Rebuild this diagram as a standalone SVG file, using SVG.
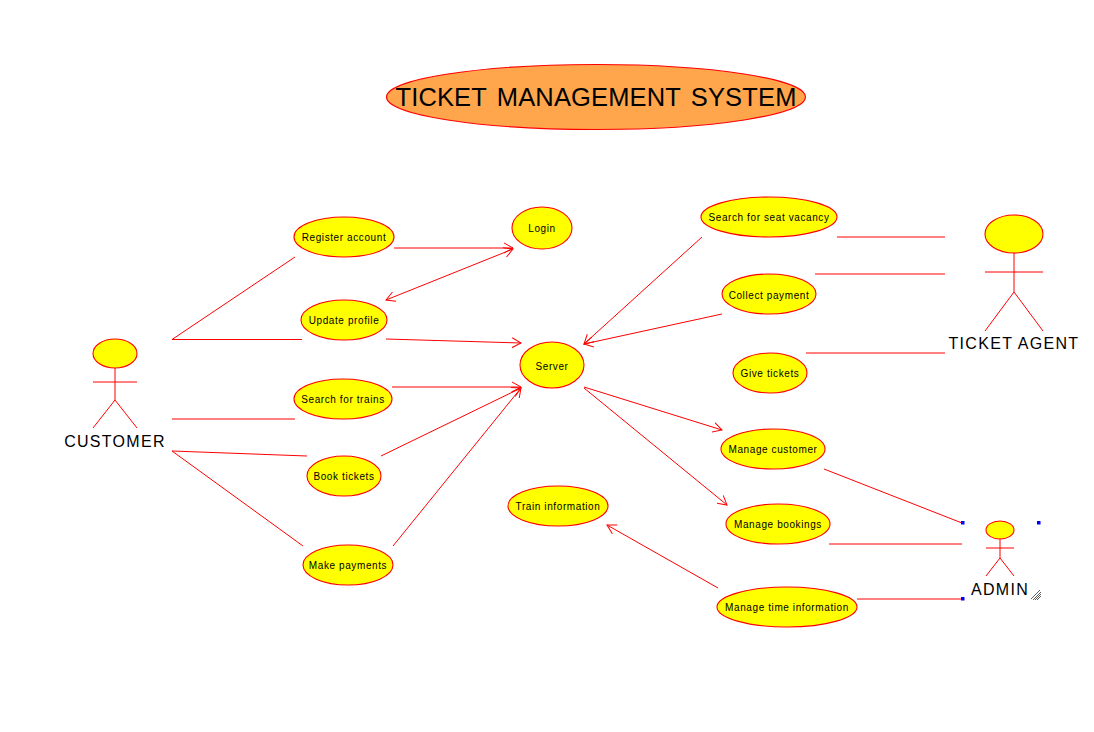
<svg xmlns="http://www.w3.org/2000/svg" width="1094" height="732" viewBox="0 0 1094 732">
<style>
.u{fill:#ffff00;stroke:#ff0000;stroke-width:1.1}
.l{fill:none;stroke:#ff0000;stroke-width:1}
text{font-family:"Liberation Sans",Arial,sans-serif;fill:#000}
.s{font-size:10px;text-anchor:middle;letter-spacing:.6px}
.a{font-size:16px;text-anchor:middle;letter-spacing:1.3px}
</style>
<defs><marker id="o" viewBox="0 0 10 12" refX="9" refY="6" markerWidth="10" markerHeight="12" markerUnits="userSpaceOnUse" orient="auto-start-reverse"><path d="M0 1L9 6L0 11" fill="none" stroke="#ff0000" stroke-width="1"/></marker></defs>
<rect width="1094" height="732" fill="#fff"/>
<g id="title"><ellipse cx="596" cy="97" rx="209.500" ry="32.500" fill="#ffa64d" stroke="#ff0000" stroke-width="1.1"/><text x="596" y="106" font-size="25.500" text-anchor="middle" letter-spacing=".15" word-spacing="3">TICKET MANAGEMENT SYSTEM</text></g>
<g id="connectors" class="l">
<path d="M172 339.500L295 257M172 339.500H302M172 419H295M172 451L307 456M172 451L303 546"/>
<path marker-end="url(#o)" d="M394 248H513"/>
<path marker-start="url(#o)" marker-end="url(#o)" d="M386 300L513 249"/>
<path marker-end="url(#o)" d="M386 339L521 343"/>
<path marker-end="url(#o)" d="M392 387H521"/>
<path marker-end="url(#o)" d="M381 456L521 388"/>
<path marker-end="url(#o)" d="M393 546L521 388"/>
<path marker-end="url(#o)" d="M702 237L584 344"/>
<path marker-end="url(#o)" d="M722 314L584 344"/>
<path marker-end="url(#o)" d="M584 387L722 430"/>
<path marker-end="url(#o)" d="M584 388L727 505"/>
<path marker-end="url(#o)" d="M718 588L607 525"/>
<path d="M837 237H945M815 274H945M806 353H945M824 469L962 523M829 544H962M857 599H962"/>
</g>
<g id="customer" class="l"><ellipse class="u" cx="115" cy="353.500" rx="22" ry="14.500"/><path d="M115 368V400M93 382H137M115 400L93 428M115 400L137 428"/><text class="a" x="115" y="447" stroke="none" style="fill:#000">CUSTOMER</text></g>
<g id="ticket-agent" class="l"><ellipse class="u" cx="1014" cy="234" rx="29" ry="19"/><path d="M1014 253V292M985 272H1043M1014 292L985 331M1014 292L1043 331"/><text class="a" x="1014" y="349" stroke="none" style="fill:#000">TICKET AGENT</text></g>
<g id="admin" class="l"><ellipse class="u" cx="1000" cy="530" rx="14" ry="9"/><path d="M1000 539V558M986 548H1014M1000 558L986 576M1000 558L1014 576"/><text class="a" x="1000" y="595" stroke="none" style="fill:#000">ADMIN</text><path d="M1031 599L1040 590M1033 600L1041 592M1035 600L1041 594M1037 600L1041 596" stroke="#333" stroke-width=".8"/></g>
<g id="handles" fill="#0000ff"><rect x="961" y="521" width="3.500" height="3.500"/><rect x="1037" y="521" width="3.500" height="3.500"/><rect x="961" y="597" width="3.500" height="3.500"/></g>
<g id="register"><ellipse class="u" cx="344" cy="237" rx="50" ry="20"/><text class="s" x="344" y="241">Register account</text></g>
<g id="login"><ellipse class="u" cx="542" cy="228" rx="30" ry="21"/><text class="s" x="542" y="232">Login</text></g>
<g id="update"><ellipse class="u" cx="344" cy="320" rx="43" ry="20"/><text class="s" x="344" y="324">Update profile</text></g>
<g id="search-trains"><ellipse class="u" cx="343" cy="399" rx="49" ry="20"/><text class="s" x="343" y="403">Search for trains</text></g>
<g id="book"><ellipse class="u" cx="344" cy="476" rx="37" ry="20"/><text class="s" x="344" y="480">Book tickets</text></g>
<g id="payments"><ellipse class="u" cx="348" cy="565" rx="45" ry="20"/><text class="s" x="348" y="569">Make payments</text></g>
<g id="server"><ellipse class="u" cx="552" cy="365" rx="32" ry="23"/><text class="s" x="552" y="370">Server</text></g>
<g id="train-info"><ellipse class="u" cx="558" cy="506" rx="50" ry="20"/><text class="s" x="558" y="510">Train information</text></g>
<g id="seat"><ellipse class="u" cx="769" cy="217" rx="68" ry="20"/><text class="s" x="769" y="221">Search for seat vacancy</text></g>
<g id="collect"><ellipse class="u" cx="769" cy="294" rx="47" ry="20"/><text class="s" x="769" y="299">Collect payment</text></g>
<g id="give"><ellipse class="u" cx="770" cy="373" rx="37" ry="20"/><text class="s" x="770" y="377">Give tickets</text></g>
<g id="manage-customer"><ellipse class="u" cx="773" cy="449" rx="52" ry="20"/><text class="s" x="773" y="453">Manage customer</text></g>
<g id="manage-bookings"><ellipse class="u" cx="778" cy="524" rx="52" ry="20"/><text class="s" x="778" y="528">Manage bookings</text></g>
<g id="manage-time"><ellipse class="u" cx="787" cy="607" rx="70" ry="20"/><text class="s" x="787" y="611">Manage time information</text></g>
</svg>
